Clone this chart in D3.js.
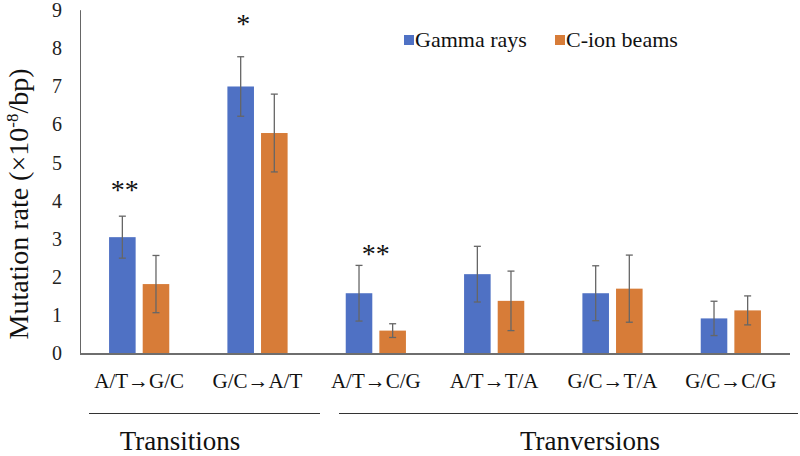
<!DOCTYPE html>
<html>
<head>
<meta charset="utf-8">
<script src="https://cdn.jsdelivr.net/npm/d3@7"></script>
<style>
  html, body { margin: 0; padding: 0; background: #fff; }
  svg { display: block; }
  svg text { font-family: "Liberation Serif", "Times New Roman", "DejaVu Serif", serif; }
</style>
</head>
<body>
<svg id="chart" width="800" height="456" font-family="Liberation Serif, Times New Roman, serif"></svg>
<script>
// ---- data ----
const categories = ["A/T\u2192G/C", "G/C\u2192A/T", "A/T\u2192C/G", "A/T\u2192T/A", "G/C\u2192T/A", "G/C\u2192C/G"];
const seriesNames = ["Gamma rays", "C-ion beams"];
const gammaValues = [3.05, 7.00, 1.58, 2.08, 1.58, 0.92];
const gammaErrors = [0.55, 0.78, 0.73, 0.73, 0.72, 0.45];
const cionValues  = [1.82, 5.78, 0.60, 1.38, 1.70, 1.13];
const cionErrors  = [0.75, 1.02, 0.18, 0.78, 0.88, 0.38];
const yTicks = [0, 1, 2, 3, 4, 5, 6, 7, 8, 9];
const groupLabels = ["Transitions", "Tranversions"];
const sigLabels = ["**", "*", "**"];
const sigCategory = [0, 1, 2];
const sigLevel = [4.42, 8.77, 2.74];

// ---- layout ----
const FONT = "'Liberation Serif', 'Times New Roman', serif";
const colors = ["#4f71c4", "#d77c38"];
const svg = d3.select("#chart");
const x = d3.scaleBand().domain(categories).range([80, 790]).paddingInner(0).paddingOuter(0);
const xSub = d3.scaleBand().domain(seriesNames).range([-30.1, 30.1]).paddingInner(0.21);
const y = d3.scaleLinear().domain([0, 9]).range([353.5, 10.2]);

const series = [
  { name: seriesNames[0], values: gammaValues, errors: gammaErrors, color: colors[0] },
  { name: seriesNames[1], values: cionValues, errors: cionErrors, color: colors[1] }
];
const cx = c => x(c) + x.bandwidth() / 2;

// y axis labels
svg.append("g").selectAll("text").data(yTicks).join("text")
  .attr("x", 62).attr("y", d => y(d))
  .attr("dy", "0.34em")
  .attr("text-anchor", "end")
  .style("font-family", FONT)
  .attr("font-size", 20).attr("fill", "#222")
  .text(d => d);

// y axis line
svg.append("line").attr("x1", 80.5).attr("x2", 80.5).attr("y1", y(9)).attr("y2", y(0))
  .attr("stroke", "#666").attr("stroke-width", 1);

// bars
series.forEach(s => {
  const g = svg.append("g");
  g.selectAll("rect").data(categories).join("rect")
    .attr("x", (c) => cx(c) + xSub(s.name))
    .attr("width", xSub.bandwidth())
    .attr("y", (c, i) => y(s.values[i]))
    .attr("height", (c, i) => y(0) - y(s.values[i]))
    .attr("fill", s.color);
});

// error bars
series.forEach(s => {
  const g = svg.append("g").attr("stroke", "#666").attr("stroke-width", 1.3);
  categories.forEach((c, i) => {
    const ex = cx(c) + xSub(s.name) + xSub.bandwidth() / 2;
    const hi = y(s.values[i] + s.errors[i]);
    const lo = y(s.values[i] - s.errors[i]);
    g.append("line").attr("x1", ex).attr("x2", ex).attr("y1", hi).attr("y2", lo);
    g.append("line").attr("x1", ex - 3.5).attr("x2", ex + 3.5).attr("y1", hi).attr("y2", hi);
    g.append("line").attr("x1", ex - 3.5).attr("x2", ex + 3.5).attr("y1", lo).attr("y2", lo);
  });
});

// x axis line
svg.append("line").attr("x1", 80).attr("x2", 790).attr("y1", y(0) + 0.5).attr("y2", y(0) + 0.5)
  .attr("stroke", "#6e6e6e").attr("stroke-width", 2);

// category labels
svg.append("g").selectAll("text").data(categories).join("text")
  .attr("x", d => cx(d)).attr("y", 387.5)
  .attr("text-anchor", "middle").attr("font-size", 21).attr("fill", "#111")
  .style("font-family", FONT)
  .text(d => d);

// significance marks
sigLabels.forEach((t, k) => {
  const c = categories[sigCategory[k]];
  const ax = k < 2 ? cx(c) + xSub(seriesNames[0]) + xSub.bandwidth() / 2 + 2.5 : cx(c);
  svg.append("text").attr("x", ax).attr("y", y(sigLevel[k]) + 14)
    .attr("text-anchor", "middle").attr("font-size", 28).attr("fill", "#111")
    .style("font-family", FONT)
    .text(t);
});

// group lines + labels
const groupExtents = [[89, 320], [339, 798]];
const groupMid = [180, 590];
groupLabels.forEach((lab, k) => {
  const [a, b] = groupExtents[k];
  svg.append("line").attr("x1", a).attr("x2", b).attr("y1", 413.5).attr("y2", 413.5)
    .attr("stroke", "#333").attr("stroke-width", 1);
  svg.append("text").attr("x", groupMid[k]).attr("y", 450).attr("text-anchor", "middle")
    .style("font-family", FONT)
    .attr("font-size", 27).attr("fill", "#111").text(lab);
});

// legend
const legendX = [404, 555];
series.forEach((s, k) => {
  svg.append("rect").attr("x", legendX[k]).attr("y", 35).attr("width", 10).attr("height", 10).attr("fill", s.color);
  svg.append("text").attr("x", legendX[k] + 11).attr("y", 46.5)
    .style("font-family", FONT)
    .attr("font-size", 22).attr("fill", "#111").text(s.name);
});

// y title
const yt = svg.append("text").attr("transform", "translate(28,204) rotate(-90)")
  .attr("text-anchor", "middle").attr("font-size", 28).attr("fill", "#111")
  .style("font-family", FONT);
yt.append("tspan").text("Mutation rate (\u00d710");
yt.append("tspan").attr("font-size", 17).attr("dy", -10).text("-8");
yt.append("tspan").attr("dy", 10).text("/bp)");
</script>
</body>
</html>
